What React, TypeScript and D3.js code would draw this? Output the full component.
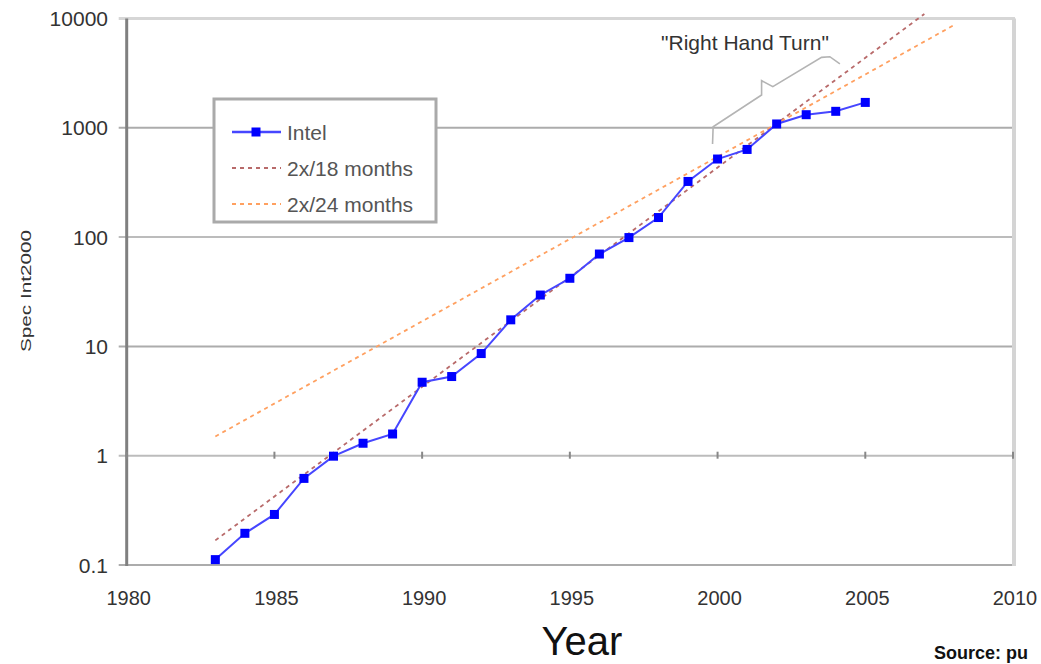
import { useRef, useEffect } from 'react';
import * as d3 from 'd3';

const years = [1983, 1984, 1985, 1986, 1987, 1988, 1989, 1990, 1991, 1992, 1993, 1994, 1995, 1996, 1997, 1998, 1999, 2000, 2001, 2002, 2003, 2004, 2005];
const intel = [0.112, 0.195, 0.29, 0.62, 0.99, 1.3, 1.58, 4.7, 5.3, 8.6, 17.5, 29.5, 42, 70, 99, 151, 323, 518, 634, 1084, 1318, 1415, 1707];

// trend lines: straight on a log axis, so two end points each
const trend18 = [{ year: 1983, value: 0.168 }, { year: 2007, value: 11000 }];
const trend24 = [{ year: 1983, value: 1.5 }, { year: 2008, value: 8700 }];

const yTicks = [0.1, 1, 10, 100, 1000, 10000];
const yTickLabels = ['0.1', '1', '10', '100', '1000', '10000'];
const xTicks = [1980, 1985, 1990, 1995, 2000, 2005, 2010];

// "Right Hand Turn" brace, in data space
const brace = [
  { year: 1999.83, value: 711 },
  { year: 1999.85, value: 1023 },
  { year: 2001.49, value: 1995 },
  { year: 2001.49, value: 2698 },
  { year: 2001.87, value: 2377 },
  { year: 2003.52, value: 4406 },
  { year: 2003.8, value: 4470 },
  { year: 2004.14, value: 3837 },
];

const legendItems = [
  { label: 'Intel', color: '#4646ff', dash: null, marker: true },
  { label: '2x/18 months', color: '#b86a6a', dash: '4,4', marker: false },
  { label: '2x/24 months', color: '#ffa060', dash: '4,4', marker: false },
];

const FONT = '"Liberation Sans", Arial, sans-serif';

export default function App() {
  const svgRef = useRef<SVGSVGElement>(null);

  useEffect(() => {
    if (!svgRef.current) return;
    const svg = d3.select(svgRef.current);
    svg.selectAll('*').remove();

    const width = 1041;
    const height = 664;
    const left = 126.7, right = 1013, top = 18.5, bottom = 565;

    const x = d3.scaleLinear().domain([1980, 2010]).range([left, right]);
    const y = d3.scaleLog().domain([0.1, 10000]).range([bottom, top]);

    svg.append('rect').attr('width', width).attr('height', height).attr('fill', '#fff');

    // grid lines
    yTicks.forEach((t, i) => {
      if (t === 10000) return;
      svg.append('line')
        .attr('x1', left - 8).attr('x2', right)
        .attr('y1', y(t)).attr('y2', y(t))
        .attr('stroke', i % 2 === 0 ? '#acacac' : '#bcbcbc').attr('stroke-width', 2);
    });

    // plot border (top / right)
    svg.append('line')
      .attr('x1', left - 8).attr('x2', right + 2).attr('y1', y(10000)).attr('y2', y(10000))
      .attr('stroke', '#d6d6d6').attr('stroke-width', 3);
    svg.append('line')
      .attr('x1', right + 1).attr('x2', right + 1).attr('y1', top).attr('y2', bottom + 1)
      .attr('stroke', '#d4d4d4').attr('stroke-width', 4);

    // y axis
    svg.append('line')
      .attr('x1', left).attr('x2', left).attr('y1', top).attr('y2', bottom + 1)
      .attr('stroke', '#808080').attr('stroke-width', 3);

    // x axis crosses at 1: tick marks
    xTicks.forEach((t) => {
      svg.append('line')
        .attr('x1', x(t)).attr('x2', x(t))
        .attr('y1', y(1) - 4).attr('y2', y(1) + 3)
        .attr('stroke', '#888').attr('stroke-width', 2);
    });

    // tick labels
    yTicks.forEach((t, i) => {
      svg.append('text')
        .attr('x', 108).attr('y', y(t))
        .attr('dy', '0.36em')
        .attr('text-anchor', 'end')
        .attr('fill', '#333')
        .style('font-family', FONT).style('font-size', '21px')
        .text(yTickLabels[i]);
    });
    xTicks.forEach((t) => {
      svg.append('text')
        .attr('x', x(t) + 2).attr('y', 605)
        .attr('text-anchor', 'middle')
        .attr('fill', '#333')
        .style('font-family', FONT).style('font-size', '20px')
        .text(String(t));
    });

    // trend lines
    const trendLine = d3.line<{ year: number; value: number }>()
      .x((d) => x(d.year))
      .y((d) => y(d.value));

    svg.append('path').datum(trend18).attr('d', trendLine)
      .attr('fill', 'none').attr('stroke', '#b86a6a').attr('stroke-width', 1.8)
      .attr('stroke-dasharray', '4,4');
    svg.append('path').datum(trend24).attr('d', trendLine)
      .attr('fill', 'none').attr('stroke', '#ffa060').attr('stroke-width', 1.8)
      .attr('stroke-dasharray', '4,4');

    // Intel series
    const pts = years.map((yr, i) => ({ year: yr, value: intel[i] }));
    svg.append('path').datum(pts).attr('d', trendLine)
      .attr('fill', 'none').attr('stroke', '#4646ff').attr('stroke-width', 2);
    svg.append('g').selectAll('rect').data(pts).join('rect')
      .attr('x', (d) => x(d.year) - 4.5).attr('y', (d) => y(d.value) - 4.5)
      .attr('width', 9).attr('height', 9)
      .attr('fill', '#0000ff');

    // annotation
    svg.append('path').datum(brace).attr('d', trendLine)
      .attr('fill', 'none').attr('stroke', '#b4b4b4').attr('stroke-width', 1.6);
    svg.append('text')
      .attr('x', 745).attr('y', 50)
      .attr('text-anchor', 'middle')
      .attr('fill', '#333')
      .style('font-family', FONT).style('font-size', '21px')
      .text('"Right Hand Turn"');

    // legend
    const lg = svg.append('g');
    lg.append('rect')
      .attr('x', 214).attr('y', 99).attr('width', 222).attr('height', 123)
      .attr('fill', '#fff').attr('stroke', '#aaa').attr('stroke-width', 3);
    legendItems.forEach((it, i) => {
      const cy = 132 + i * 36;
      lg.append('line')
        .attr('x1', 232).attr('x2', 281).attr('y1', cy).attr('y2', cy)
        .attr('stroke', it.color).attr('stroke-width', it.marker ? 2.5 : 1.8)
        .attr('stroke-dasharray', it.dash ?? null);
      if (it.marker) {
        lg.append('rect')
          .attr('x', 256 - 4.5).attr('y', cy - 4.5).attr('width', 9).attr('height', 9)
          .attr('fill', '#0000ff');
      }
      lg.append('text')
        .attr('x', 287).attr('y', cy).attr('dy', '0.36em')
        .attr('fill', '#555')
        .style('font-family', FONT).style('font-size', '21px')
        .text(it.label);
    });

    // axis titles
    svg.append('text')
      .attr('transform', 'translate(31, 291) rotate(-90)')
      .attr('text-anchor', 'middle')
      .attr('fill', '#333')
      .style('font-family', FONT).style('font-size', '15px')
      .attr('textLength', 122).attr('lengthAdjust', 'spacingAndGlyphs')
      .text('Spec Int2000');

    svg.append('text')
      .attr('x', 582).attr('y', 655)
      .attr('text-anchor', 'middle')
      .attr('fill', '#111')
      .style('font-family', FONT).style('font-size', '40px')
      .text('Year');

    svg.append('text')
      .attr('x', 934).attr('y', 659)
      .attr('fill', '#111')
      .style('font-family', FONT).style('font-size', '18px').style('font-weight', 'bold')
      .text('Source: pu');
  }, []);

  return (
    <svg
      ref={svgRef}
      width={1041}
      height={664}
      viewBox="0 0 1041 664"
      style={{ position: 'absolute', left: 0, top: 0 }}
    />
  );
}
